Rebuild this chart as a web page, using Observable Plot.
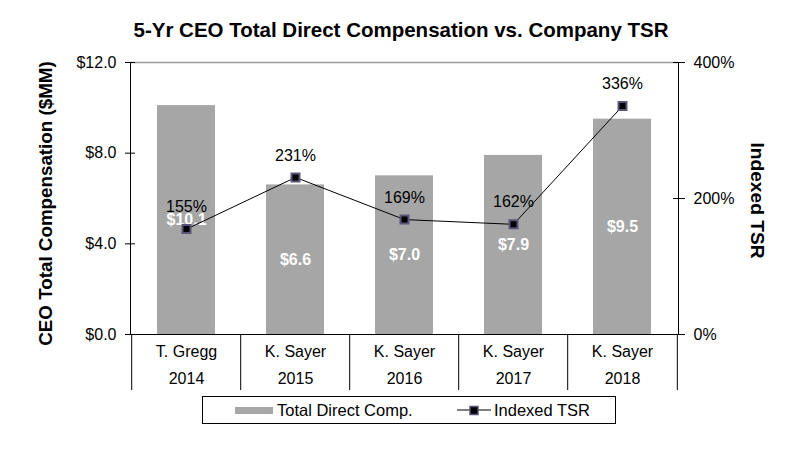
<!DOCTYPE html>
<html>
<head>
<meta charset="utf-8">
<script src="https://cdn.jsdelivr.net/npm/d3@7"></script>
<script src="https://cdn.jsdelivr.net/npm/@observablehq/plot@0.6"></script>
<style>
  body { margin: 0; background: #fff; font-family: "Liberation Sans", Arial, sans-serif; }
  #title { height: 28px; padding-top: 20px; line-height: 20px; text-align: center; font-weight: bold; font-size: 20.5px; color: #000; width: 802px; }
  #legend { position: relative; height: 58px; width: 802px; }
  #legend .box { position: absolute; left: 202px; top: 4px; width: 414px; height: 28px; border: 1px solid #000; box-sizing: border-box; font-size: 16px; }
</style>
</head>
<body>
<div id="title">5-Yr CEO Total Direct Compensation vs. Company TSR</div>
<div id="chart"></div>
<div id="legend"></div>
<script>
const ceos = ["T. Gregg", "K. Sayer", "K. Sayer", "K. Sayer", "K. Sayer"];
const years = ["2014", "2015", "2016", "2017", "2018"];
const compensation = [10.1, 6.6, 7.0, 7.9, 9.5];   // $MM
const tsr = [155, 231, 169, 162, 336];              // Indexed TSR, %
const compTicks = [0, 4, 8, 12];
const tsrTicks = [0, 200, 400];
const seriesNames = ["Total Direct Comp.", "Indexed TSR"];

const compMax = 12, tsrMax = 400;
const toComp = v => v * compMax / tsrMax;   // secondary-axis mapping

const data = years.map((y, i) => ({
  key: y,
  label: ceos[i] + "\n" + y,
  comp: compensation[i],
  tsr: tsr[i],
  tsrScaled: toComp(tsr[i])
}));
const labelOf = new Map(data.map(d => [d.key, d.label]));

const barColor = "#a6a6a6";
const font = "Liberation Sans, Arial, sans-serif";

const chart = Plot.plot({
  width: 802,
  height: 344,
  marginTop: 14,
  marginBottom: 58,
  marginLeft: 130,
  marginRight: 124,
  style: { fontFamily: font, fontSize: "16px", color: "#000", background: "#fff" },
  x: { domain: years, paddingInner: 0.47, paddingOuter: 0.235, align: 0.5, axis: null },
  y: { domain: [0, compMax], axis: null },
  marks: [
    Plot.barY(data, { x: "key", y: "comp", fill: barColor }),
    Plot.frame({ stroke: "#000", strokeWidth: 1 }),
    Plot.ruleY([compMax], { stroke: "#999", strokeWidth: 1.5 }),
    // left axis
    Plot.axisY({ anchor: "left", ticks: compTicks, tickSize: 10, dx: 5, tickPadding: 9,
      tickFormat: d => "$" + d.toFixed(1), fontSize: 16, label: null }),
    // right axis (secondary TSR)
    Plot.axisY({ anchor: "right", ticks: tsrTicks.map(toComp), tickSize: 12, dx: -6, tickPadding: 9,
      tickFormat: d => Math.round(d * tsrMax / compMax) + "%", fontSize: 16, label: null }),
    // category separators
    Plot.axisX({ anchor: "bottom", ticks: years, tickSize: 56, dx: -54.8, tickFormat: null, label: null }),
    Plot.axisX({ anchor: "bottom", ticks: [years[years.length - 1]], tickSize: 56, dx: 54.8, tickFormat: null, label: null }),
    // category labels
    Plot.axisX({ anchor: "bottom", ticks: years, tickSize: 0, tickPadding: 3, lineHeight: 1.7,
      tickFormat: d => labelOf.get(d), fontSize: 16, label: null }),
    // bar value labels
    Plot.text(data, { x: "key", y: d => d.comp / 2, text: d => "$" + d.comp.toFixed(1),
      fill: "#fff", fontWeight: "bold", fontSize: 16 }),
    // TSR line
    Plot.line(data, { x: "key", y: "tsrScaled", stroke: "#000", strokeWidth: 1 }),
    Plot.dot(data, { x: "key", y: "tsrScaled", symbol: "square", r: 4.5, fill: "#000", stroke: "#5b5378", strokeWidth: 2 }),
    Plot.text(data, { x: "key", y: "tsrScaled", text: d => d.tsr + "%", dy: -22, fill: "#000", fontSize: 16 }),
    // axis titles
    Plot.text(["CEO Total Compensation ($MM)"], { frameAnchor: "left", textAnchor: "middle", dx: -85, dy: 5, rotate: -90,
      fontWeight: "bold", fontSize: 18.8, fill: "#000" }),
    Plot.text(["Indexed TSR"], { frameAnchor: "right", textAnchor: "middle", dx: 79, dy: 2, rotate: 90,
      fontWeight: "bold", fontSize: 19.2, fill: "#000" })
  ]
});
document.getElementById("chart").appendChild(chart);

// legend
const lg = d3.select("#legend").append("div").attr("class", "box");
const sv = lg.append("svg").attr("width", 412).attr("height", 26).style("position", "absolute").style("left", 0).style("top", 0);
sv.append("rect").attr("x", 32).attr("y", 10).attr("width", 38).attr("height", 7).attr("fill", barColor);
sv.append("text").attr("x", 74).attr("y", 19).attr("font-size", 16.5).attr("font-family", font).text(seriesNames[0]);
sv.append("line").attr("x1", 254).attr("x2", 288).attr("y1", 13).attr("y2", 13).attr("stroke", "#000");
sv.append("rect").attr("x", 267).attr("y", 9.5).attr("width", 8).attr("height", 8).attr("fill", "#000").attr("stroke", "#5b5378").attr("stroke-width", 1.5);
sv.append("text").attr("x", 291).attr("y", 19).attr("font-size", 16.5).attr("font-family", font).text(seriesNames[1]);
</script>
</body>
</html>
